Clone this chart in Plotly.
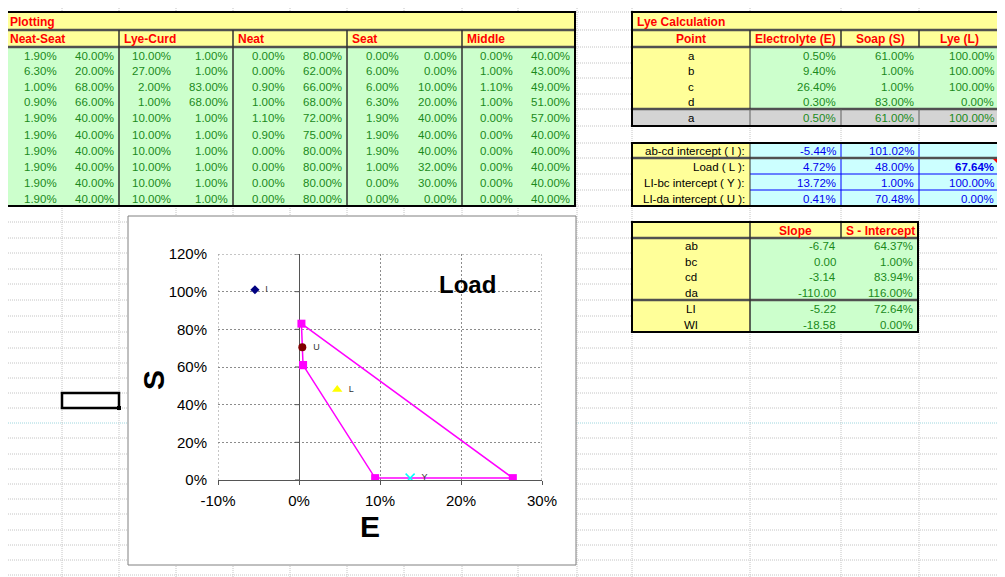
import plotly.graph_objects as go

## ---------------- data ----------------
# Plotting table (E and S pairs, in %)
plot_groups = ['Neat-Seat', 'Lye-Curd', 'Neat', 'Seat', 'Middle']
neat_seat_e = [1.90, 6.30, 1.00, 0.90, 1.90, 1.90, 1.90, 1.90, 1.90, 1.90]
neat_seat_s = [40.00, 20.00, 68.00, 66.00, 40.00, 40.00, 40.00, 40.00, 40.00, 40.00]
lye_curd_e = [10.00, 27.00, 2.00, 1.00, 10.00, 10.00, 10.00, 10.00, 10.00, 10.00]
lye_curd_s = [1.00, 1.00, 83.00, 68.00, 1.00, 1.00, 1.00, 1.00, 1.00, 1.00]
neat_e = [0.00, 0.00, 0.90, 1.00, 1.10, 0.90, 0.00, 0.00, 0.00, 0.00]
neat_s = [80.00, 62.00, 66.00, 68.00, 72.00, 75.00, 80.00, 80.00, 80.00, 80.00]
seat_e = [0.00, 6.00, 6.00, 6.30, 1.90, 1.90, 1.90, 1.00, 0.00, 0.00]
seat_s = [0.00, 0.00, 10.00, 20.00, 40.00, 40.00, 40.00, 32.00, 30.00, 0.00]
middle_e = [0.00, 1.00, 1.10, 1.00, 0.00, 0.00, 0.00, 0.00, 0.00, 0.00]
middle_s = [40.00, 43.00, 49.00, 51.00, 57.00, 40.00, 40.00, 40.00, 40.00, 40.00]

# Lye Calculation table (closed polygon a-b-c-d-a)
lye_points = ['a', 'b', 'c', 'd', 'a']
lye_e = [0.50, 9.40, 26.40, 0.30, 0.50]
lye_s = [61.00, 1.00, 1.00, 83.00, 61.00]
lye_l = [100.00, 100.00, 100.00, 0.00, 100.00]

# intercept / load table
special_labels = ['ab-cd intercept ( I ):', 'Load ( L ):', 'LI-bc intercept ( Y ):', 'LI-da intercept ( U ):']
special_names = ['I', 'L', 'Y', 'U']
special_e = [-5.44, 4.72, 13.72, 0.41]
special_s = [101.02, 48.00, 1.00, 70.48]
special_l = [None, 67.64, 100.00, 0.00]

# slope table
line_names = ['ab', 'bc', 'cd', 'da', 'LI', 'WI']
line_slope = [-6.74, 0.00, -3.14, -110.00, -5.22, -18.58]
line_icept = [64.37, 1.00, 83.94, 116.00, 72.64, 0.00]

e_ticks = [-10, 0, 10, 20, 30]
s_ticks = [0, 20, 40, 60, 80, 100, 120]

## ---------------- sheet geometry (screen pixels) ----------------
W, H = 1005, 577
OFF = 8   # the page puts the figure 8px in from the window corner
FONT = 'Liberation Sans, Arial, sans-serif'
YELLOW = '#FFFF99'
GREEN = '#CCFFCC'
CYAN = '#CCFFFF'
GREY = '#D4D4D4'
RED = '#FF0000'
TXT_GREEN = '#1A8A1A'
TXT_BLUE = '#0000EE'
DOUBLE = '#505050'
CELL_SIZE = 11.5

COL_X = [5, 62, 119, 176, 233, 290, 347, 404, 462, 518, 575]
GRID_X = [62, 119, 176, 233, 290, 347, 404, 462, 518, 577, 632, 750, 841, 919, 999]
ROW_Y = [12, 30, 47, 63, 78, 94, 109, 126, 143, 158, 174, 190, 206, 222, 238, 253, 269,
         284, 300, 316, 332, 348, 363, 378, 393, 408, 423, 438, 454, 469, 484, 499, 514,
         530, 545, 560, 575]
RC = [632, 750, 841, 919, 999]

shapes = []
annos = []


def rect(x0, y0, x1, y1, fill, line='rgba(0,0,0,0)', width=0):
    shapes.append(dict(type='rect', xref='x', yref='y', x0=x0, y0=y0, x1=x1, y1=y1,
                       fillcolor=fill, line=dict(color=line, width=width), layer='below'))


def seg(x0, y0, x1, y1, color, width=1, dash='solid'):
    shapes.append(dict(type='line', xref='x', yref='y', x0=x0, y0=y0, x1=x1, y1=y1,
                       line=dict(color=color, width=width, dash=dash), layer='below'))


def txt(x, y, s, anchor='right', color=TXT_GREEN, size=CELL_SIZE, bold=False):
    annos.append(dict(xref='x', yref='y', x=x, y=y, text='<b>%s</b>' % s if bold else s,
                      showarrow=False, xanchor=anchor, yanchor='middle',
                      font=dict(family=FONT, size=size, color=color)))


def mid(i):
    return (ROW_Y[i] + ROW_Y[i + 1]) / 2 + 0.5


def pct(v):
    return '%.2f%%' % v


## sheet gridlines
for y in ROW_Y:
    seg(0, y, W + OFF, y, '#9ED6DE' if y == 423 else '#C4C4C4', 1, '1px,1px')
for x in GRID_X:
    seg(x, 0, x, H + OFF, '#C4C4C4', 1, '1px,1px')

## Plotting table
rect(COL_X[0], ROW_Y[0], COL_X[-1], ROW_Y[2], YELLOW)
rect(COL_X[0], ROW_Y[2], COL_X[-1], ROW_Y[12], GREEN)
seg(COL_X[0], ROW_Y[1], COL_X[-1], ROW_Y[1], DOUBLE, 2.5)
seg(COL_X[0], ROW_Y[2], COL_X[-1], ROW_Y[2], DOUBLE, 2.5)
for g in range(1, 5):
    seg(COL_X[2 * g], ROW_Y[1], COL_X[2 * g], ROW_Y[12], '#303030', 1.5)
rect(COL_X[0], ROW_Y[0], COL_X[-1], ROW_Y[12], 'rgba(0,0,0,0)', '#000000', 2)
txt(COL_X[0] + 3, mid(0), 'Plotting', 'left', RED, 12, True)
plot_cols = [neat_seat_e, neat_seat_s, lye_curd_e, lye_curd_s, neat_e, neat_s,
             seat_e, seat_s, middle_e, middle_s]
for g, name in enumerate(plot_groups):
    txt(COL_X[2 * g] + 3, mid(1), name, 'left', RED, 12, True)
for c, vals in enumerate(plot_cols):
    for r, v in enumerate(vals):
        txt(COL_X[c + 1] - 3, mid(2 + r), pct(v))

## Lye Calculation table
rect(RC[0], ROW_Y[0], RC[4], ROW_Y[2], YELLOW)
rect(RC[0], ROW_Y[2], RC[1], ROW_Y[6], YELLOW)
rect(RC[1], ROW_Y[2], RC[4], ROW_Y[6], GREEN)
rect(RC[0], ROW_Y[6], RC[4], ROW_Y[7], GREY)
for i in (1, 2, 6):
    seg(RC[0], ROW_Y[i], RC[4], ROW_Y[i], DOUBLE, 2.5)
for x in RC[1:4]:
    seg(x, ROW_Y[1], x, ROW_Y[2], '#303030', 1.5)
    seg(x, ROW_Y[6], x, ROW_Y[7], '#606060', 1)
seg(RC[1], ROW_Y[2], RC[1], ROW_Y[6], '#303030', 1)
rect(RC[0], ROW_Y[0], RC[4], ROW_Y[7], 'rgba(0,0,0,0)', '#000000', 2)
txt(RC[0] + 3, mid(0), 'Lye Calculation', 'left', RED, 12, True)
for k, head in enumerate(['Point', 'Electrolyte (E)', 'Soap (S)', 'Lye (L)']):
    txt((RC[k] + RC[k + 1]) / 2, mid(1), head, 'center', RED, 12, True)
for r in range(len(lye_points)):
    row = 2 + r
    txt((RC[0] + RC[1]) / 2, mid(row), lye_points[r], 'center', '#000000')
    txt(RC[2] - 3, mid(row), pct(lye_e[r]))
    txt(RC[3] - 3, mid(row), pct(lye_s[r]))
    txt(RC[4] - 3, mid(row), pct(lye_l[r]))

## intercept table
rect(RC[0], ROW_Y[8], RC[1], ROW_Y[12], YELLOW)
rect(RC[1], ROW_Y[8], RC[4], ROW_Y[12], CYAN)
for x in RC[2:4]:
    seg(x, ROW_Y[8], x, ROW_Y[12], '#0000FF', 1)
for i in (10, 11):
    seg(RC[1], ROW_Y[i], RC[4], ROW_Y[i], '#0000FF', 1)
seg(RC[0], ROW_Y[9], RC[4], ROW_Y[9], DOUBLE, 2.5)
seg(RC[1], ROW_Y[8], RC[1], ROW_Y[12], '#303030', 1)
rect(RC[0], ROW_Y[8], RC[4], ROW_Y[12], 'rgba(0,0,0,0)', '#000000', 2)
shapes.append(dict(type='path', xref='x', yref='y', layer='below',
                   path='M %d,%d L %d,%d L %d,%d Z' % (RC[4] - 6, ROW_Y[9] + 1, RC[4] - 1, ROW_Y[9] + 1,
                                                     RC[4] - 1, ROW_Y[9] + 6),
                   fillcolor=RED, line=dict(width=0)))
for r in range(len(special_labels)):
    row = 8 + r
    txt(RC[1] - 3, mid(row), special_labels[r], 'right', '#000000')
    txt(RC[2] - 3, mid(row), pct(special_e[r]), 'right', TXT_BLUE)
    txt(RC[3] - 3, mid(row), pct(special_s[r]), 'right', TXT_BLUE)
    if special_l[r] is not None:
        txt(RC[4] - 3, mid(row), pct(special_l[r]), 'right', TXT_BLUE, CELL_SIZE, r == 1)

## slope table
rect(RC[0], ROW_Y[13], RC[3], ROW_Y[14], YELLOW)
rect(RC[0], ROW_Y[14], RC[1], ROW_Y[20], YELLOW)
rect(RC[1], ROW_Y[14], RC[3] - 1, ROW_Y[20], GREEN)
for i in (14, 18):
    seg(RC[0], ROW_Y[i], RC[3] - 1, ROW_Y[i], DOUBLE, 2.5)
seg(RC[1], ROW_Y[13], RC[1], ROW_Y[20], '#303030', 1.5)
seg(RC[2], ROW_Y[13], RC[2], ROW_Y[14], '#303030', 1.5)
rect(RC[0], ROW_Y[13], RC[3] - 1, ROW_Y[20], 'rgba(0,0,0,0)', '#000000', 2)
txt((RC[1] + RC[2]) / 2, mid(13), 'Slope', 'center', RED, 12, True)
txt((RC[2] + RC[3]) / 2, mid(13), 'S - Intercept', 'center', RED, 12, True)
for r in range(len(line_names)):
    row = 14 + r
    txt((RC[0] + RC[1]) / 2, mid(row), line_names[r], 'center', '#000000')
    txt(RC[2] - 3, mid(row), '%.2f' % line_slope[r])
    txt(RC[3] - 4, mid(row), pct(line_icept[r]))

## active cell
rect(COL_X[1], ROW_Y[24], COL_X[2], ROW_Y[25], 'rgba(0,0,0,0)', '#000000', 2.5)
rect(COL_X[2] - 2, ROW_Y[25] - 2, COL_X[2] + 2, ROW_Y[25] + 2, '#000000')

## chart object box (white, hides the sheet grid)
rect(128, 216, 576, 565, '#FFFFFF', '#808080', 1)

## chart text
annos.append(dict(xref='x', yref='y', x=467, y=284, text='<b>Load</b>', showarrow=False,
                  font=dict(family=FONT, size=24, color='#000000')))
annos.append(dict(xref='x', yref='y', x=153, y=380, text='<b>S</b>', showarrow=False, textangle=-90,
                  font=dict(family=FONT, size=30, color='#000000')))
annos.append(dict(xref='x', yref='y', x=370, y=526, text='<b>E</b>', showarrow=False,
                  font=dict(family=FONT, size=30, color='#000000')))

## ---------------- figure ----------------
fig = go.Figure()

# invisible trace so the sheet axes exist
fig.add_trace(go.Scatter(x=[OFF, W], y=[OFF, H], mode='markers', marker=dict(opacity=0),
                         hoverinfo='skip', showlegend=False, xaxis='x', yaxis='y'))

fig.add_trace(go.Scatter(x=lye_e, y=lye_s, mode='lines+markers', xaxis='x2', yaxis='y2',
                         line=dict(color='#FF00FF', width=1.5),
                         marker=dict(symbol='square', size=8, color='#FF00FF'),
                         showlegend=False, hovertext=lye_points))

point_style = {
    'I': dict(symbol='diamond', size=7, color='#000080'),
    'L': dict(symbol='triangle-up', size=9, color='#FFFF00'),
    'Y': dict(symbol='x-thin-open', size=9, color='#00FFFF', line=dict(width=1.5, color='#00FFFF')),
    'U': dict(symbol='circle', size=8, color='#800000'),
}
for name, e, s in zip(special_names, special_e, special_s):
    fig.add_trace(go.Scatter(x=[e], y=[s], mode='markers+text', xaxis='x2', yaxis='y2',
                             text=['  ' + name], textposition='middle right',
                             textfont=dict(family=FONT, size=9, color='#333333'),
                             marker=point_style[name], showlegend=False, name=name))

GRID = dict(color='#8C8C8C', width=1, dash='2px,2px')
AXIS = '#555555'
# y tick marks sit on the E = 0 axis line
for t in s_ticks:
    shapes.append(dict(type='line', xref='x2', yref='y2', xsizemode='pixel', xanchor=0,
                       x0=-4, x1=0, y0=t, y1=t, line=dict(color=AXIS, width=1), layer='above'))
# outer gridlines of the plot area (plotly leaves them out at the range ends)
for t in (e_ticks[0], e_ticks[-1]):
    shapes.append(dict(type='line', xref='x2', yref='y2', x0=t, x1=t, y0=s_ticks[0], y1=s_ticks[-1],
                       line=GRID, layer='below'))
shapes.append(dict(type='line', xref='x2', yref='y2', x0=e_ticks[0], x1=e_ticks[-1],
                   y0=s_ticks[-1], y1=s_ticks[-1], line=GRID, layer='below'))

fig.update_layout(
    width=W, height=H, margin=dict(l=0, r=0, t=0, b=0, pad=0, autoexpand=False),
    paper_bgcolor='#FFFFFF', plot_bgcolor='rgba(0,0,0,0)',
    shapes=shapes, annotations=annos,
    # sheet axes are in screen pixels of the window
    xaxis=dict(domain=[0, 1], range=[OFF, W + OFF], visible=False, fixedrange=True),
    yaxis=dict(domain=[0, 1], range=[H + OFF, OFF], visible=False, fixedrange=True),
    xaxis2=dict(domain=[(218 - OFF) / W, (542 - OFF) / W], anchor='y2', range=[-10, 30],
                tickvals=e_ticks, ticktext=['%d%%' % t for t in e_ticks],
                showgrid=True, gridcolor=GRID['color'], griddash=GRID['dash'], gridwidth=1,
                zeroline=True, zerolinecolor=AXIS, zerolinewidth=1,
                showline=True, linecolor=AXIS, linewidth=1,
                ticks='outside', ticklen=4, tickcolor=AXIS, ticklabelstandoff=3,
                tickfont=dict(family=FONT, size=15, color='#000000'), fixedrange=True),
    yaxis2=dict(domain=[1 - (480 - OFF) / H, 1 - (254 - OFF) / H], anchor='x2', range=[0, 120],
                tickvals=s_ticks, ticktext=['%d%%' % t for t in s_ticks],
                showgrid=True, gridcolor=GRID['color'], griddash=GRID['dash'], gridwidth=1,
                zeroline=False, showline=False, ticks='', ticklabelstandoff=10,
                tickfont=dict(family=FONT, size=15, color='#000000'), fixedrange=True),
    showlegend=False,
)

fig.write_html('out.html')
